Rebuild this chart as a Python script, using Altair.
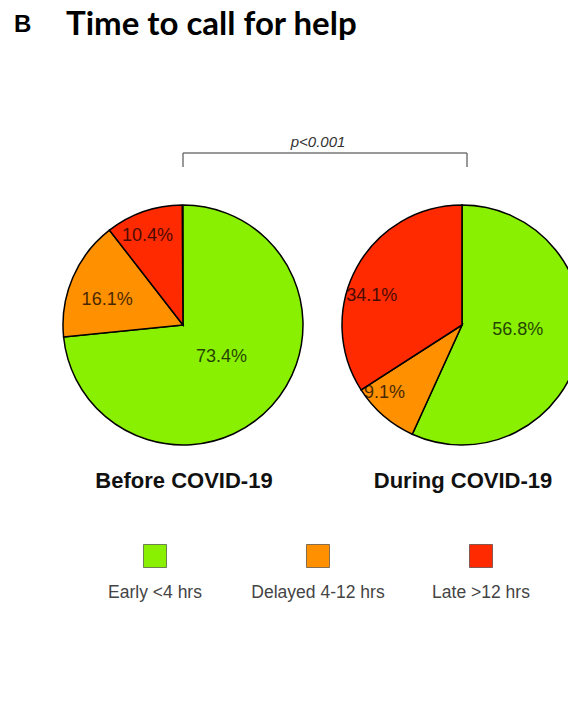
import altair as alt
import pandas as pd

categories = ["Early <4 hrs", "Delayed 4-12 hrs", "Late >12 hrs"]
before_values = [73.4, 16.1, 10.4]
during_values = [56.8, 9.1, 34.1]
groups = ["Before COVID-19", "During COVID-19"]
colors = ["#88F000", "#FF9000", "#FF2A00"]

# styling / layout (not data)
centers = {"Before COVID-19": (175, 317), "During COVID-19": (454, 317)}
label_radius = {"Before COVID-19": [50, 80, 96], "During COVID-19": [56, 103, 95]}
label_angle_shift = {"Before COVID-19": [-2.6, -5, -3], "During COVID-19": [-7, 8, -10.6]}
R = 120

rows = []
for g, vals in zip(groups, [before_values, during_values]):
    for i, (c, v) in enumerate(zip(categories, vals)):
        rows.append({"group": g, "category": c, "idx": i, "value": v,
                     "label": f"{v:.1f}%", "lr": label_radius[g][i],
                     "ashift": label_angle_shift[g][i]})
df = pd.DataFrame(rows)

color_scale = alt.Scale(domain=categories, range=colors)

layers = []
for g in groups:
    cx, cy = centers[g]
    base = alt.Chart(df).transform_filter(alt.datum.group == g)
    pie = base.mark_arc(outerRadius=R, stroke="black", strokeWidth=1.5).encode(
        theta=alt.Theta("value:Q", stack=True),
        color=alt.Color("category:N", scale=color_scale, legend=None),
        order=alt.Order("idx:Q"),
        x=alt.value(cx), y=alt.value(cy),
    )
    txt = base.transform_joinaggregate(total="sum(value)").transform_stack(
        stack="value", groupby=["group"], as_=["v0", "v1"],
        sort=[alt.SortField("idx", order="ascending")],
    ).transform_calculate(
        ang="((datum.v0 + datum.v1) / 2) / datum.total * 2 * PI + datum.ashift * PI / 180",
        px=f"{cx} + datum.lr * sin(datum.ang)",
        py=f"{cy} - datum.lr * cos(datum.ang)",
    ).mark_text(font="Liberation Sans", fontSize=18, color="black",
                opacity=0.72, baseline="middle", align="center").encode(
        x=alt.X("px:Q", scale=None, axis=None),
        y=alt.Y("py:Q", scale=None, axis=None),
        text="label:N",
    )
    glabel = alt.Chart(pd.DataFrame({"group": [g]})).mark_text(
        font="Liberation Sans", fontSize=22, fontWeight="bold", color="#111",
        align="center", baseline="alphabetic").encode(
        text="group:N", x=alt.value(cx + 1), y=alt.value(480))
    layers += [pie, txt, glabel]

# significance bracket
bx1, bx2, by = centers[groups[0]][0], centers[groups[1]][0] + 5, 145
bracket = [
    alt.Chart(pd.DataFrame({"a": [0]})).mark_rule(color="#777", strokeWidth=1.5).encode(
        x=alt.value(bx1), x2=alt.value(bx2), y=alt.value(by)),
    alt.Chart(pd.DataFrame({"a": [0]})).mark_rule(color="#777", strokeWidth=1.5).encode(
        x=alt.value(bx1), y=alt.value(by), y2=alt.value(by + 14)),
    alt.Chart(pd.DataFrame({"a": [0]})).mark_rule(color="#777", strokeWidth=1.5).encode(
        x=alt.value(bx2), y=alt.value(by), y2=alt.value(by + 14)),
    alt.Chart(pd.DataFrame({"t": ["p<0.001"]})).mark_text(
        font="Liberation Sans", fontSize=15, fontStyle="italic", color="#333",
        align="center", baseline="alphabetic").encode(
        text="t:N", x=alt.value(310), y=alt.value(139)),
]

# custom legend
leg_df = pd.DataFrame({"category": categories})
leg_x = alt.X("category:N", scale=alt.Scale(type="point", domain=categories,
                                           range=[147, 473], padding=0), axis=None)
legend_sq = alt.Chart(leg_df).mark_square(size=530, opacity=1, stroke="#333",
                                          strokeWidth=1, strokeOpacity=0.6).encode(
    x=leg_x, y=alt.value(548),
    color=alt.Color("category:N", scale=color_scale, legend=None))
legend_txt = alt.Chart(leg_df).mark_text(font="Liberation Sans", fontSize=17.5,
                                         color="#444", align="center",
                                         baseline="alphabetic").encode(
    x=alt.X("category:N", scale=alt.Scale(type="point", domain=categories,
                                         range=[147, 471], padding=0), axis=None),
    y=alt.value(590), text="category:N")

# title
title_b = alt.Chart(pd.DataFrame({"t": ["B"]})).mark_text(
    font="Liberation Sans", fontSize=24, fontWeight="bold", color="black",
    align="left", baseline="alphabetic").encode(text="t:N", x=alt.value(6), y=alt.value(24))
title_t = alt.Chart(pd.DataFrame({"t": ["Time to call for help"]})).mark_text(
    font="Lato", fontSize=33, fontWeight="bold", color="black",
    align="left", baseline="alphabetic").encode(text="t:N", x=alt.value(58), y=alt.value(27))

chart = alt.layer(*layers, *bracket, legend_sq, legend_txt, title_b, title_t).properties(
    width=560, height=696, padding=0, autosize=alt.AutoSizeParams(type="none"),
    background="white",
).configure_view(stroke=None)

chart.save("out.html", embed_options={"renderer": "svg", "actions": False})
